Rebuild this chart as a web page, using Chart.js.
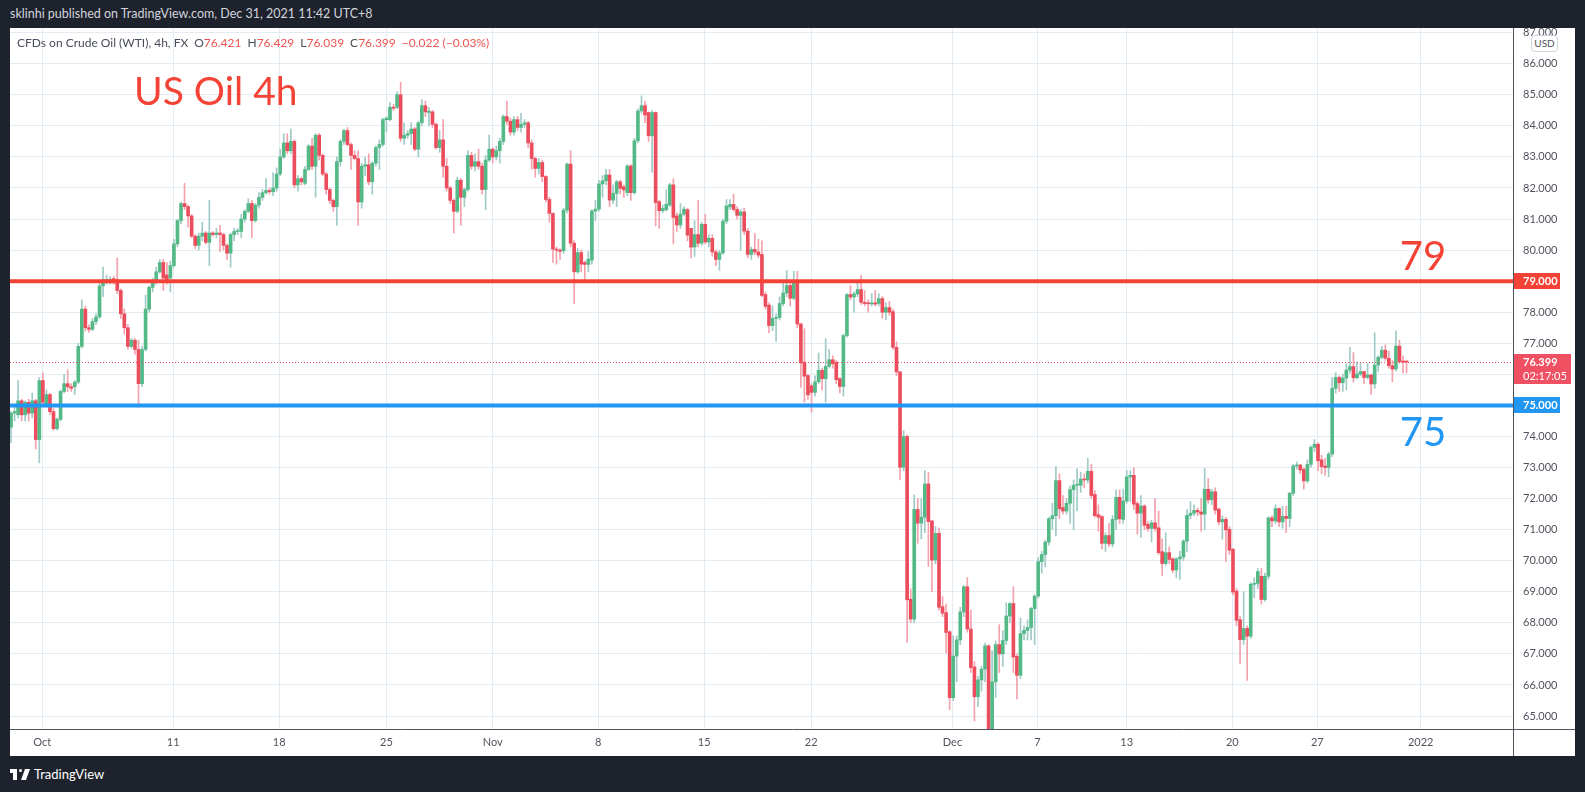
<!DOCTYPE html>
<html>
<head>
<meta charset="utf-8">
<script src="https://cdn.jsdelivr.net/npm/chart.js@4.4.1/dist/chart.umd.min.js"></script>
<style>
  html, body { margin: 0; padding: 0; }
  body { width: 1585px; height: 792px; background: #1e222d; position: relative; overflow: hidden; font-family: Lato, "Open Sans", sans-serif; }
  #header { position: absolute; left: 10px; top: 6px; font-size: 12.5px; color: #d1d4dc; white-space: nowrap; }
  #panel { position: absolute; left: 10px; top: 28px; width: 1565px; height: 728px; background: #fff; }
  #legend { position: absolute; left: 7px; top: 7px; font-size: 12px; color: #4a4e59; white-space: nowrap; }
  #legend .v { color: #ef5350; }
  #legend .g { margin-left: 6px; }
  #title { position: absolute; left: 124px; top: 39px; font-size: 39px; color: #f44336; white-space: nowrap; }
  #usd { position: absolute; left: 1521px; top: 7px; width: 25px; height: 15px; line-height: 15px; border: 1px solid #d1d4dc; border-radius: 4px; background: #fff; font-size: 10px; color: #50535e; text-align: center; }
  #footer { position: absolute; left: 10px; top: 766px; height: 16px; color: #fff; font-size: 13px; white-space: nowrap; }
  #logo { position: absolute; left: 0; top: 3px; width: 20px; height: 11px; }
  #logo .a { position: absolute; left: 0; top: 0; width: 7px; height: 4px; background: #fff; }
  #logo .b { position: absolute; left: 3px; top: 0; width: 4px; height: 11px; background: #fff; }
  #logo .c { position: absolute; left: 9px; top: 0; width: 3px; height: 3px; border-radius: 50%; background: #fff; }
  #logo .d { position: absolute; left: 13px; top: 0; width: 5px; height: 11px; background: #fff; transform: skewX(-20deg); }
  #footer .t { position: absolute; left: 24px; top: 0; }
</style>
</head>
<body>
<div id="header">sklinhi published on TradingView.com, Dec 31, 2021 11:42 UTC+8</div>
<div id="panel">
  <canvas id="oilChart" width="1565" height="728"></canvas>
  <div id="legend">CFDs on Crude Oil (WTI), 4h, FX<span class="g">O<span class="v">76.421</span></span><span class="g">H<span class="v">76.429</span></span><span class="g">L<span class="v">76.039</span></span><span class="g">C<span class="v">76.399</span></span><span class="g v">&minus;0.022 (&minus;0.03%)</span></div>
  <div id="title">US Oil 4h</div>
  <div id="usd">USD</div>
</div>
<div id="footer"><div id="logo"><div class="a"></div><div class="b"></div><div class="c"></div><div class="d"></div></div><span class="t">TradingView</span></div>

<script>
// 4h candles, Sep 30 - Dec 31 2021
const opens = [
  74.3, 74.75, 74.7, 75.15, 74.7, 75.1, 74.75, 75.15, 73.9, 75.8,
  75.05, 75.35, 74.8, 74.25, 74.55, 75.45, 75.7, 75.6, 75.6, 75.75,
  76.9, 78.1, 77.5, 77.45, 77.7, 77.85, 78.85, 79.0, 79.02, 79.08,
  79.05, 78.7, 77.95, 77.5, 76.9, 77.1, 76.8, 75.7, 76.8, 78.1,
  78.8, 79.0, 79.3, 79.6, 79.2, 79.1, 79.5, 80.2, 80.95, 81.5,
  81.4, 81.1, 80.45, 80.15, 80.45, 80.55, 80.25, 80.55, 80.5, 80.55,
  80.5, 80.15, 79.9, 80.5, 80.6, 80.6, 81.0, 81.25, 81.5, 80.95,
  81.45, 81.7, 81.85, 81.92, 81.88, 82.0, 82.45, 83.0, 83.45, 83.2,
  83.5, 82.1, 82.3, 82.15, 82.6, 83.35, 82.7, 83.7, 83.05, 82.45,
  81.95, 81.6, 81.4, 82.85, 83.5, 83.85, 83.4, 83.05, 82.95, 81.55,
  82.7, 82.75, 82.2, 82.8, 83.3, 83.4, 84.2, 84.2, 84.6, 84.6,
  85.0, 83.6, 83.7, 83.75, 83.9, 83.25, 84.1, 84.65, 84.43, 84.45,
  84.05, 83.3, 83.55, 82.7, 82.0, 81.6, 81.25, 82.25, 81.7, 81.95,
  83.05, 82.7, 82.85, 82.7, 81.95, 82.9, 83.25, 83.0, 83.2, 83.5,
  84.3, 84.15, 83.8, 84.2, 83.95, 84.05, 84.1, 83.45, 82.95, 82.63,
  82.82, 82.37, 81.63, 81.18, 80.03, 80.0, 79.98, 81.29, 82.77, 80.22,
  79.3, 79.92, 79.6, 79.54, 79.68, 81.26, 81.32, 82.13, 82.23, 82.42,
  81.61, 81.83, 82.2, 82.04, 81.85, 82.71, 81.85, 83.52, 84.48, 84.65,
  84.43, 83.68, 84.43, 81.56, 81.27, 81.3, 81.45, 82.1, 81.1, 80.81,
  81.16, 81.3, 80.7, 80.1, 80.5, 80.22, 80.83, 80.26, 80.38, 79.94,
  79.7, 79.91, 80.93, 81.39, 81.47, 81.31, 81.12, 81.23, 80.61, 79.86,
  80.02, 79.94, 79.86, 78.57, 78.23, 77.57, 77.8, 77.83, 78.28, 78.62,
  78.86, 78.45, 78.97, 77.62, 76.39, 75.96, 75.63, 75.42, 75.76, 76.13,
  75.86, 76.26, 76.47, 76.39, 75.86, 75.61, 77.25, 78.57, 78.49, 78.59,
  78.73, 78.32, 78.3, 78.27, 78.3, 78.28, 78.44, 78.0, 78.15, 78.02,
  76.87, 76.08, 73.01, 74.0, 68.76, 68.12, 71.65, 71.21, 71.4, 72.47,
  71.28, 70.02, 70.88, 68.52, 68.33, 67.71, 65.59, 66.93, 67.45, 68.35,
  69.16, 67.8, 66.58, 65.62, 66.16, 66.51, 67.26, 64.35, 66.1, 67.3,
  67.0, 67.43, 68.22, 68.62, 66.92, 66.31, 67.65, 67.76, 67.85, 68.46,
  68.86, 69.97, 70.2, 70.6, 71.35, 71.45, 72.58, 71.71, 71.6, 71.85,
  72.29, 72.43, 72.43, 72.63, 72.6, 72.88, 72.13, 71.48, 71.42, 70.56,
  70.81, 70.54, 71.33, 72.04, 71.33, 71.92, 72.7, 72.75, 71.84, 71.53,
  71.76, 71.17, 71.04, 71.22, 71.06, 70.29, 69.91, 70.26, 70.06, 69.7,
  70.06, 70.12, 70.63, 71.46, 71.53, 71.62, 71.57, 71.5, 72.3, 71.96,
  72.22, 71.66, 71.25, 71.33, 71.01, 70.37, 69.02, 68.1, 67.46, 67.82,
  67.57, 69.24, 69.27, 69.5, 68.75, 69.5, 71.38, 71.28, 71.68, 71.25,
  71.43, 71.36, 72.17, 73.05, 73.08, 72.94, 72.57, 73.1, 73.65, 73.75,
  73.25, 73.05, 73.0, 73.43, 75.55, 75.9, 75.73, 75.88, 76.14, 76.25,
  75.89, 76.01, 76.09, 75.9, 75.98, 75.69, 76.3, 76.55, 76.78, 76.52,
  76.28, 76.17, 76.91, 76.43, 76.421,
];
const highs = [
  74.8, 75.0, 75.8, 75.2, 75.15, 75.2, 75.4, 75.2, 75.9, 76.05,
  75.5, 75.4, 74.9, 74.6, 75.5, 76.0, 76.15, 75.7, 75.8, 77.0,
  78.4, 78.2, 77.6, 77.8, 77.95, 78.95, 79.45, 79.2, 79.15, 79.15,
  79.75, 78.75, 78.1, 77.6, 77.15, 77.15, 77.1, 76.9, 78.55, 78.85,
  79.1, 79.45, 79.7, 79.7, 79.6, 79.65, 80.35, 81.0, 81.55, 82.15,
  81.45, 81.15, 80.5, 80.55, 80.9, 80.6, 81.6, 80.6, 80.7, 80.8,
  80.55, 80.2, 80.55, 80.7, 80.7, 81.15, 81.3, 81.65, 81.6, 81.5,
  81.85, 81.95, 82.3, 82.0, 82.5, 82.65, 83.25, 83.75, 83.75, 83.9,
  83.55, 82.4, 82.35, 82.7, 83.4, 83.6, 83.75, 83.75, 83.1, 82.5,
  82.0, 81.65, 83.0, 83.55, 83.9, 83.95, 83.45, 83.2, 83.2, 82.8,
  83.0, 83.1, 82.85, 83.35, 83.55, 84.25, 84.3, 84.75, 84.7, 85.1,
  85.4, 84.1, 83.85, 84.1, 83.95, 84.15, 84.85, 84.8, 84.6, 84.5,
  84.1, 83.85, 84.2, 82.95, 82.05, 81.65, 82.35, 82.3, 82.0, 83.2,
  83.15, 83.1, 83.25, 82.8, 83.05, 83.7, 83.3, 83.35, 83.6, 84.35,
  84.8, 84.25, 84.3, 84.3, 84.4, 84.2, 84.15, 83.55, 83.0, 82.95,
  82.9, 82.4, 81.7, 81.2, 80.1, 80.05, 81.35, 82.8, 83.2, 80.3,
  80.05, 80.0, 79.65, 79.95, 81.3, 81.6, 82.25, 82.4, 82.6, 82.6,
  82.1, 82.25, 82.25, 82.1, 82.75, 82.75, 83.6, 84.55, 84.97, 84.8,
  84.45, 84.5, 84.45, 81.6, 81.45, 81.95, 82.15, 82.3, 81.2, 81.5,
  81.4, 81.35, 80.7, 80.95, 81.6, 80.9, 81.15, 80.5, 80.5, 80.0,
  80.0, 81.0, 81.63, 81.63, 81.8, 81.4, 81.3, 81.35, 80.7, 80.1,
  80.54, 80.35, 80.3, 78.65, 78.3, 78.2, 77.95, 78.5, 79.03, 79.34,
  78.95, 79.32, 79.32, 77.65, 77.47, 76.0, 75.7, 75.95, 76.69, 76.2,
  77.15, 76.8, 76.6, 76.45, 75.9, 77.3, 78.6, 78.86, 78.65, 79.0,
  79.2, 78.7, 78.4, 78.6, 78.7, 78.6, 78.5, 78.3, 78.35, 78.1,
  77.05, 76.1, 74.19, 74.05, 69.1, 72.12, 72.0, 72.0, 72.9, 72.85,
  71.3, 71.1, 71.05, 68.85, 68.6, 67.75, 67.58, 67.58, 68.5, 69.2,
  69.46, 68.4, 66.75, 66.28, 66.6, 67.35, 67.3, 67.1, 67.42, 67.94,
  67.75, 68.65, 68.65, 69.16, 67.0, 68.16, 67.9, 68.1, 68.5, 68.9,
  70.1, 70.3, 70.65, 71.4, 71.85, 73.03, 72.8, 72.1, 72.0, 72.4,
  72.6, 72.96, 72.85, 72.8, 73.3, 73.1, 72.25, 71.8, 71.45, 70.9,
  71.2, 71.45, 72.28, 72.28, 72.3, 72.9, 72.9, 73.0, 71.9, 72.1,
  71.8, 71.25, 71.3, 72.0, 71.6, 70.7, 70.9, 70.45, 70.1, 70.1,
  70.3, 70.68, 71.65, 71.9, 71.8, 71.7, 72.0, 72.97, 72.65, 72.3,
  72.35, 71.7, 71.45, 71.4, 71.1, 70.4, 69.1, 68.2, 69.0, 67.9,
  69.3, 69.45, 69.75, 69.75, 69.6, 71.42, 71.45, 71.8, 71.7, 71.75,
  71.75, 72.2, 73.1, 73.18, 73.1, 73.0, 73.25, 73.7, 73.9, 73.8,
  73.4, 73.3, 73.5, 75.9, 76.05, 75.95, 76.0, 76.35, 76.87, 76.7,
  76.4, 76.35, 76.1, 76.35, 76.0, 77.34, 76.6, 76.9, 76.95, 76.75,
  76.45, 77.4, 77.1, 76.6, 76.429,
];
const lows = [
  73.8, 74.5, 74.6, 74.5, 74.5, 74.5, 74.6, 73.6, 73.15, 75.0,
  74.95, 74.7, 74.2, 74.2, 74.5, 75.4, 75.45, 75.45, 75.35, 75.7,
  76.85, 77.4, 77.35, 77.4, 77.6, 77.8, 78.5, 78.9, 78.9, 78.9,
  78.6, 77.8, 77.3, 76.8, 76.85, 76.65, 74.95, 75.6, 76.75, 78.0,
  78.65, 78.9, 79.25, 78.7, 78.9, 78.65, 79.45, 80.1, 80.85, 81.3,
  80.75, 80.4, 80.05, 80.0, 80.3, 80.2, 79.5, 80.45, 80.4, 79.95,
  80.0, 79.7, 79.45, 80.3, 80.5, 80.4, 80.9, 81.2, 80.4, 80.9,
  81.35, 81.6, 81.8, 81.8, 81.75, 81.9, 82.4, 82.95, 83.1, 83.1,
  82.0, 81.9, 82.1, 82.1, 82.55, 82.6, 81.7, 82.9, 82.4, 81.8,
  81.5, 81.25, 80.8, 82.7, 83.4, 83.35, 82.6, 82.9, 80.8, 81.35,
  82.4, 82.1, 81.8, 82.7, 82.6, 83.35, 83.8, 84.15, 84.5, 84.55,
  83.5, 83.4, 83.6, 83.4, 83.2, 83.0, 84.0, 84.3, 84.0, 83.95,
  83.25, 83.15, 82.35, 81.9, 81.5, 80.55, 81.2, 80.8, 81.4, 81.9,
  82.6, 82.55, 82.6, 81.8, 81.3, 82.85, 82.8, 82.9, 82.8, 83.4,
  84.05, 83.7, 83.7, 83.85, 83.8, 83.95, 83.3, 82.6, 82.35, 82.45,
  82.2, 81.55, 80.9, 79.6, 79.55, 79.7, 79.9, 81.2, 80.1, 78.28,
  79.25, 79.3, 78.98, 79.3, 79.55, 80.95, 81.25, 81.7, 82.1, 81.4,
  81.5, 81.4, 81.8, 81.7, 81.75, 81.6, 81.8, 83.45, 84.4, 84.1,
  83.5, 82.5, 80.78, 80.7, 81.2, 81.25, 81.4, 80.2, 80.6, 80.7,
  81.1, 80.3, 79.75, 79.8, 80.1, 80.15, 80.2, 80.1, 79.8, 79.5,
  79.35, 79.85, 80.85, 81.3, 81.25, 81.0, 80.0, 80.5, 79.75, 79.7,
  79.85, 79.75, 78.5, 78.1, 77.33, 77.4, 77.06, 77.75, 78.2, 78.5,
  78.2, 78.4, 77.5, 75.58, 75.1, 75.2, 74.78, 75.3, 75.7, 75.5,
  75.1, 76.2, 76.2, 75.7, 75.4, 75.3, 77.2, 78.4, 78.0, 78.5,
  78.25, 78.2, 78.0, 78.2, 78.2, 78.2, 77.8, 77.75, 77.9, 76.8,
  75.95, 72.6, 72.9, 67.37, 68.0, 68.0, 70.56, 70.7, 70.9, 69.82,
  69.0, 69.9, 68.4, 68.2, 67.04, 65.21, 65.5, 66.1, 67.3, 68.2,
  67.7, 66.4, 64.84, 65.3, 65.8, 66.1, 64.1, 64.2, 65.6, 66.4,
  66.6, 67.3, 68.0, 66.4, 65.55, 66.2, 67.45, 67.45, 67.45, 67.3,
  68.8, 69.6, 69.8, 70.5, 71.0, 70.8, 71.35, 71.5, 71.5, 71.2,
  71.0, 71.6, 72.2, 72.35, 72.5, 72.0, 71.4, 70.95, 70.38, 70.3,
  70.45, 70.45, 71.0, 71.2, 71.2, 71.85, 71.9, 71.65, 70.85, 70.75,
  71.0, 70.95, 70.6, 70.95, 70.2, 69.53, 69.85, 69.9, 69.61, 69.45,
  69.4, 70.0, 70.3, 71.35, 71.45, 71.45, 70.95, 71.0, 71.85, 71.8,
  71.5, 71.15, 70.69, 69.96, 70.2, 68.9, 67.9, 66.69, 67.3, 66.15,
  67.5, 68.8, 69.1, 68.6, 68.7, 69.4, 71.1, 71.2, 71.1, 71.05,
  70.9, 71.1, 72.1, 72.95, 72.8, 72.3, 72.5, 73.0, 73.5, 72.9,
  72.8, 72.75, 72.7, 73.35, 75.4, 75.45, 75.45, 75.5, 76.05, 75.75,
  75.85, 75.95, 75.7, 75.85, 75.35, 75.55, 76.1, 76.5, 76.45, 76.2,
  75.76, 76.1, 76.35, 76.05, 76.039,
];
const closes = [
  74.75, 74.8, 75.15, 74.7, 75.1, 74.75, 75.15, 73.9, 75.8, 75.1,
  75.35, 74.8, 74.25, 74.55, 75.45, 75.7, 75.6, 75.55, 75.75, 76.9,
  78.1, 77.5, 77.45, 77.7, 77.85, 78.85, 79.05, 79.05, 79.06, 79.0,
  78.7, 77.95, 77.5, 76.9, 77.1, 76.8, 75.7, 76.8, 78.1, 78.8,
  79.0, 79.3, 79.6, 79.1, 79.05, 79.5, 80.2, 80.95, 81.5, 81.4,
  81.1, 80.45, 80.15, 80.45, 80.55, 80.25, 80.55, 80.5, 80.55, 80.5,
  80.15, 79.9, 80.5, 80.6, 80.63, 81.0, 81.25, 81.5, 80.95, 81.45,
  81.7, 81.85, 81.92, 81.88, 82.0, 82.45, 83.0, 83.45, 83.2, 83.5,
  82.1, 82.3, 82.2, 82.6, 83.35, 82.7, 83.7, 83.05, 82.45, 81.95,
  81.6, 81.4, 82.85, 83.5, 83.85, 83.4, 83.05, 82.95, 81.55, 82.7,
  82.75, 82.2, 82.8, 83.3, 83.4, 84.2, 84.25, 84.6, 84.57, 85.0,
  83.6, 83.7, 83.75, 83.9, 83.25, 84.1, 84.65, 84.45, 84.47, 84.05,
  83.3, 83.55, 82.7, 82.0, 81.6, 81.25, 82.25, 81.7, 81.95, 83.05,
  82.7, 82.85, 82.7, 81.95, 82.9, 83.25, 83.0, 83.2, 83.5, 84.3,
  84.15, 83.8, 84.2, 83.95, 84.05, 84.1, 83.45, 82.95, 82.63, 82.82,
  82.37, 81.63, 81.18, 80.03, 80.0, 79.96, 81.29, 82.77, 80.22, 79.3,
  79.92, 79.55, 79.54, 79.71, 81.26, 81.32, 82.13, 82.23, 82.42, 81.61,
  81.83, 82.2, 81.99, 81.94, 82.71, 81.85, 83.52, 84.48, 84.65, 84.35,
  83.68, 84.43, 81.53, 81.27, 81.34, 81.48, 82.1, 81.05, 80.81, 81.16,
  81.32, 80.48, 80.1, 80.5, 80.22, 80.83, 80.26, 80.38, 79.94, 79.7,
  79.91, 80.93, 81.42, 81.47, 81.31, 81.12, 81.23, 80.61, 79.86, 80.02,
  79.94, 79.84, 78.54, 78.19, 77.57, 77.8, 77.83, 78.28, 78.62, 78.86,
  78.45, 78.97, 77.62, 76.37, 75.94, 75.34, 75.42, 75.76, 76.13, 75.86,
  76.26, 76.47, 76.34, 75.83, 75.61, 77.25, 78.57, 78.49, 78.59, 78.73,
  78.32, 78.28, 78.27, 78.3, 78.26, 78.44, 78.0, 78.15, 78.0, 76.87,
  76.08, 73.01, 74.0, 68.74, 68.12, 71.65, 71.21, 71.4, 72.47, 71.26,
  70.02, 70.88, 68.5, 68.31, 67.69, 65.59, 66.93, 67.45, 68.35, 69.16,
  67.8, 66.56, 65.62, 66.16, 66.51, 67.26, 64.35, 66.1, 67.3, 67.0,
  67.43, 68.22, 68.62, 66.9, 66.31, 67.65, 67.76, 67.85, 68.46, 68.86,
  69.97, 70.2, 70.6, 71.35, 71.45, 72.58, 71.67, 71.6, 71.85, 72.29,
  72.43, 72.46, 72.63, 72.6, 72.88, 72.1, 71.45, 71.4, 70.56, 70.81,
  70.54, 71.33, 72.04, 71.35, 71.92, 72.7, 72.75, 71.82, 71.53, 71.76,
  71.14, 71.04, 71.22, 71.04, 70.26, 69.91, 70.26, 70.04, 69.7, 70.06,
  70.12, 70.63, 71.46, 71.53, 71.62, 71.57, 71.5, 72.3, 71.96, 72.22,
  71.63, 71.25, 71.33, 70.99, 70.34, 68.99, 68.08, 67.46, 67.82, 67.57,
  69.24, 69.27, 69.65, 68.75, 69.5, 71.38, 71.28, 71.68, 71.25, 71.43,
  71.36, 72.17, 73.05, 73.08, 72.92, 72.57, 73.1, 73.65, 73.75, 73.22,
  73.03, 73.0, 73.43, 75.55, 75.9, 75.73, 75.88, 76.14, 76.25, 75.89,
  76.01, 76.09, 75.9, 75.98, 75.69, 76.3, 76.55, 76.78, 76.52, 76.28,
  76.17, 76.91, 76.41, 76.39, 76.399,
];

// time axis: label positions in candle index units
const dateTickIdx = [8.8, 45.8, 75.7, 106, 136, 165.8, 195.7, 225.9, 265.8, 289.8, 315, 344.8, 368.8, 398];
const dateTickLabels = ["Oct", "11", "18", "25", "Nov", "8", "15", "22", "Dec", "7", "13", "20", "27", "2022"];

// price axis
const priceTicks = [65, 66, 67, 68, 69, 70, 71, 72, 73, 74, 75, 76, 77, 78, 79, 80, 81, 82, 83, 84, 85, 86, 87];
const levels = [79, 75];
const levelLabels = ["79", "75"];
const lastPrice = closes[closes.length - 1];
const countdown = "02:17:05";

// styles
const upColor = "#53b987";
const downColor = "#eb4d5c";
const upWick = "#9fcac6";
const downWick = "#f3a2ac";
const levelColors = ["#f44336", "#2196f3"];
const gridColor = "#e3ecf2";
const axisColor = "#50535e";
const axisFont = { family: "Lato", size: 11 };

const lens = [opens.length, highs.length, lows.length, closes.length];
if (lens.some((n) => n !== lens[0])) throw new Error("length mismatch " + lens.join(","));

const isUp = (i) => closes[i] >= opens[i];

// keep the plot edge-to-edge: no extra room for overhanging tick labels
const noPadding = (scale) => {
  scale.paddingTop = 0;
  scale.paddingBottom = 0;
  scale.paddingLeft = 0;
  scale.paddingRight = 0;
};

const drawings = {
  id: "drawings",
  afterDatasetsDraw(chart) {
    const { ctx, chartArea: area, scales } = chart;
    const y = scales.y;
    ctx.save();
    ctx.beginPath();
    ctx.rect(area.left, area.top, area.width, area.height);
    ctx.clip();

    // last price dotted line
    const ly = Math.round(y.getPixelForValue(lastPrice)) + 0.5;
    ctx.strokeStyle = downColor;
    ctx.lineWidth = 1;
    ctx.setLineDash([1, 2]);
    ctx.beginPath();
    ctx.moveTo(area.left, ly);
    ctx.lineTo(area.right, ly);
    ctx.stroke();
    ctx.setLineDash([]);

    // horizontal levels
    levels.forEach((lv, k) => {
      const py = y.getPixelForValue(lv);
      ctx.strokeStyle = levelColors[k];
      ctx.lineWidth = 4;
      ctx.beginPath();
      ctx.moveTo(area.left, py);
      ctx.lineTo(area.right, py);
      ctx.stroke();

      ctx.fillStyle = levelColors[k];
      ctx.font = "40px Lato";
      ctx.textAlign = "center";
      ctx.textBaseline = "middle";
      ctx.fillText(levelLabels[k], area.right - 90, py + (k === 0 ? -24 : 28));
    });
    ctx.restore();
  },
  afterDraw(chart) {
    const { ctx, chartArea: area, scales, width, height } = chart;
    const y = scales.y;
    ctx.save();

    // axis borders across the whole panel
    ctx.strokeStyle = axisColor;
    ctx.lineWidth = 1;
    ctx.beginPath();
    ctx.moveTo(Math.round(area.right) + 0.5, 0);
    ctx.lineTo(Math.round(area.right) + 0.5, height);
    ctx.moveTo(0, Math.round(area.bottom) + 0.5);
    ctx.lineTo(width, Math.round(area.bottom) + 0.5);
    ctx.stroke();

    // price boxes on the axis
    ctx.font = "bold 11px Lato";
    ctx.textAlign = "left";
    ctx.textBaseline = "middle";
    levels.forEach((lv, k) => {
      const py = Math.round(y.getPixelForValue(lv));
      ctx.fillStyle = levelColors[k];
      ctx.fillRect(area.right + 1, py - 8, 46, 16);
      ctx.fillStyle = "#fff";
      ctx.fillText(lv.toFixed(3), area.right + 10, py + 0.5);
    });

    const lp = Math.round(y.getPixelForValue(lastPrice));
    ctx.fillStyle = "#ef5163";
    ctx.fillRect(area.right + 1, lp - 8, 57, 30);
    ctx.fillStyle = "#fff";
    ctx.fillText(lastPrice.toFixed(3), area.right + 10, lp + 0.5);
    ctx.font = "11px Lato";
    ctx.fillText(countdown, area.right + 10, lp + 14);
    ctx.restore();
  },
};

new Chart(document.getElementById("oilChart"), {
  type: "bar",
  data: {
    datasets: [
      {
        label: "Wicks",
        data: lows.map((l, i) => ({ x: i, y: [l, highs[i]] })),
        backgroundColor: lows.map((l, i) => (isUp(i) ? upWick : downWick)),
        barThickness: 1,
        grouped: false,
        order: 2,
      },
      {
        label: "Bodies",
        data: opens.map((o, i) => ({ x: i, y: [o, closes[i]] })),
        backgroundColor: opens.map((o, i) => (isUp(i) ? upColor : downColor)),
        barThickness: 3,
        minBarLength: 1,
        grouped: false,
        order: 1,
      },
    ],
  },
  options: {
    responsive: false,
    devicePixelRatio: 1,
    animation: false,
    layout: { padding: 0 },
    plugins: {
      legend: { display: false },
      tooltip: { enabled: false },
    },
    scales: {
      x: {
        type: "linear",
        min: -0.28,
        max: 424.05,
        offset: false,
        afterFit: (scale) => {
          scale.height = 27;
          noPadding(scale);
        },
        afterBuildTicks: (scale) => {
          scale.ticks = dateTickIdx.map((v) => ({ value: v }));
        },
        grid: { color: gridColor, offset: false, drawTicks: false },
        border: { display: false },
        ticks: {
          autoSkip: false,
          maxRotation: 0,
          padding: 7,
          color: axisColor,
          font: axisFont,
          callback: (value, index) => dateTickLabels[index],
        },
      },
      y: {
        position: "right",
        min: 64.582,
        max: 87.151,
        afterFit: (scale) => {
          scale.width = 62;
          noPadding(scale);
        },
        afterBuildTicks: (scale) => {
          scale.ticks = priceTicks.map((v) => ({ value: v }));
        },
        grid: { color: gridColor, drawTicks: false },
        border: { display: false },
        ticks: {
          padding: 10,
          color: axisColor,
          font: axisFont,
          callback: (value) => value.toFixed(3),
        },
      },
    },
  },
  plugins: [drawings],
});
</script>
</body>
</html>
